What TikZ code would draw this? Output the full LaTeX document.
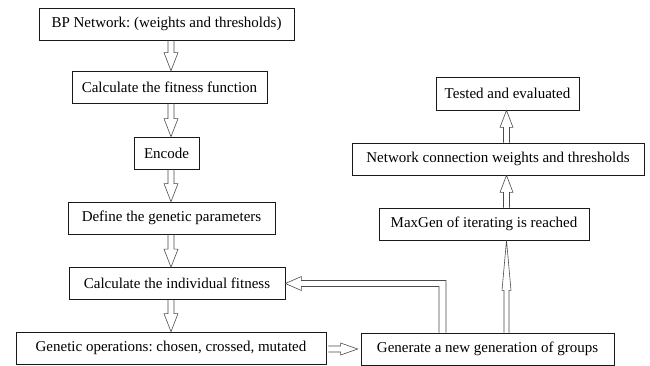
\documentclass[tikz,border=0pt]{standalone}
\usepackage{fontspec}
\setmainfont{Liberation Serif}
\frenchspacing
\usetikzlibrary{calc}
\tikzset{
  box/.style={draw=black!90, line width=0.7pt, minimum height=32pt, inner sep=0pt,
    font=\fontsize{15}{18}\selectfont, text=black},
  arrowline/.style={draw=black!70, line width=0.6pt, line join=miter}
}
% #1 start, #2 end, #3 shaft half width, #4 head half width, #5 head length
\newcommand\blockarrow[5]{%
  \coordinate (ba-s) at (#1);
  \coordinate (ba-e) at (#2);
  \coordinate (ba-b) at ($(ba-e)!#5!(ba-s)$);
  \draw[arrowline] ($(ba-s)!#3!90:(ba-e)$) -- ($(ba-b)!#3!90:(ba-e)$) -- ($(ba-b)!#4!90:(ba-e)$)
    -- (ba-e) -- ($(ba-b)!#4!-90:(ba-e)$) -- ($(ba-b)!#3!-90:(ba-e)$) -- ($(ba-s)!#3!-90:(ba-e)$);
}
\begin{document}
\begin{tikzpicture}[x=1pt, y=-1pt]
\useasboundingbox (0,0) rectangle (650,365);
\fill[white] (0,0) rectangle (650,365);
% left column
\node[box, minimum width=255pt] (bp) at (166.5,24) {BP Network: (weights and thresholds)};
\node[box, minimum width=195pt] (calcfit) at (169.5,87) {Calculate the fitness function};
\node[box, minimum width=65pt] (encode) at (166.5,153) {Encode};
\node[box, minimum width=207pt] (define) at (171.5,218) {Define the genetic parameters};
\node[box, minimum width=216pt] (indiv) at (177,283.5) {Calculate the individual fitness};
\node[box, minimum width=310pt] (genetic) at (171,348) {Genetic operations: chosen, crossed, mutated};
% right column
\node[box, minimum width=253pt] (generate) at (487.5,349) {Generate a new generation of groups};
\node[box, minimum width=210pt] (maxgen) at (484,224) {MaxGen of iterating is reached};
\node[box, minimum width=292pt] (network) at (498,159) {Network connection weights and thresholds};
\node[box, minimum width=143pt, minimum height=33pt] (tested) at (507.5,93.5) {Tested and evaluated};
\coordinate (colL) at (171,0);
\coordinate (colR) at (506.5,0);
\coordinate (fbx) at (442.5,0);
% left column arrows
\blockarrow{bp.south -| colL}{calcfit.north -| colL}{3pt}{7pt}{18pt}
\blockarrow{calcfit.south -| colL}{encode.north -| colL}{3pt}{7pt}{18pt}
\blockarrow{encode.south -| colL}{define.north -| colL}{3pt}{7pt}{18pt}
\blockarrow{define.south -| colL}{indiv.north -| colL}{3pt}{7pt}{18pt}
\blockarrow{indiv.south -| colL}{genetic.north -| colL}{3pt}{7pt}{18pt}
% horizontal
\blockarrow{$(genetic.east |- generate.west)+(2,0)$}{$(generate.west)+(-3,0)$}{3pt}{6pt}{17pt}
% right column arrows
\blockarrow{generate.north -| colR}{maxgen.south -| colR}{2.5pt}{4.5pt}{50pt}
\blockarrow{maxgen.north -| colR}{network.south -| colR}{3pt}{6.5pt}{17pt}
\blockarrow{network.north -| colR}{tested.south -| colR}{3pt}{6.5pt}{17pt}
% feedback arrow
\coordinate (fbturn) at (indiv.east -| fbx);
\draw[arrowline] ($(generate.north -| fbx)+(3.5,0)$) -- ($(fbturn)+(3.5,-3)$)
  -- ($(indiv.east)+(16,-3)$) -- ($(indiv.east)+(16,-7)$) -- (indiv.east)
  -- ($(indiv.east)+(16,7)$) -- ($(indiv.east)+(16,3)$) -- ($(fbturn)+(-3.5,3)$)
  -- ($(generate.north -| fbx)+(-3.5,0)$);
\end{tikzpicture}
\end{document}
